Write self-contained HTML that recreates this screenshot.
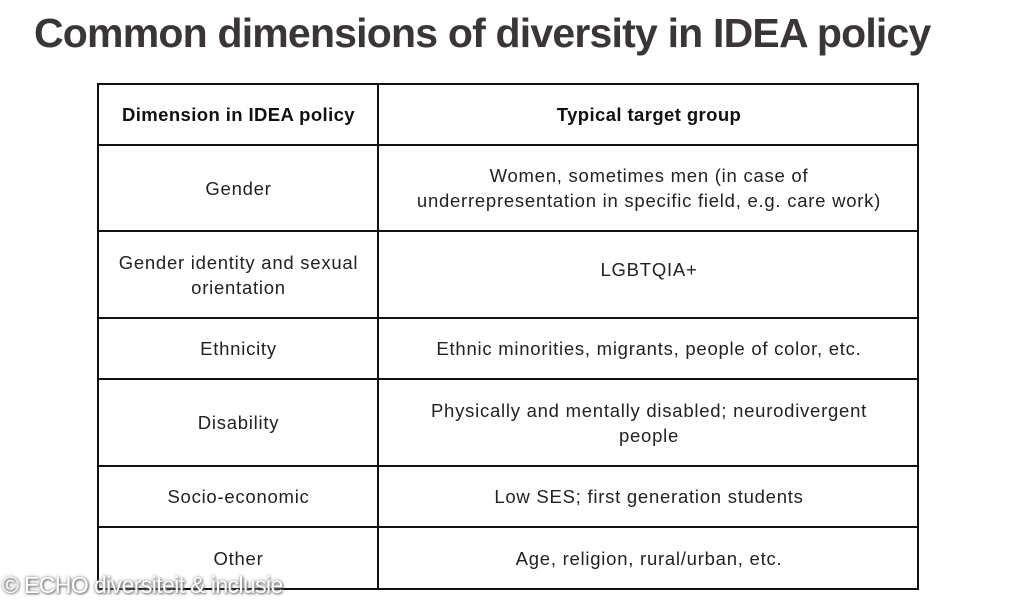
<!DOCTYPE html>
<html><head><meta charset="utf-8">
<style>
html,body{margin:0;padding:0;background:#fff;}
body{width:1030px;height:608px;position:relative;overflow:hidden;font-family:"Liberation Sans",sans-serif;}
#title{position:absolute;left:34px;top:10px;font-size:41px;font-weight:bold;color:#3a3637;letter-spacing:-0.8px;white-space:nowrap;}
.hl,.vl{position:absolute;background:#111;}
.hl{height:2px;left:97px;width:822px;}
.vl{width:2px;top:83px;height:507px;}
.cell{position:absolute;display:flex;align-items:center;justify-content:center;text-align:center;font-size:18.5px;letter-spacing:0.75px;color:#222;line-height:25px;}
.c1{left:99px;width:279px;}
.c2{left:380px;width:538px;}
.hd{font-weight:bold;color:#111;letter-spacing:0.4px;}
#wm{position:absolute;left:2px;top:572px;font-size:23px;color:#fff;text-shadow:0 0 3px #777,1px 1px 2px #666;white-space:nowrap;letter-spacing:-0.6px;}
</style></head>
<body>
<div id="title">Common dimensions of diversity in IDEA policy</div>
<div>
<div class="hl" style="top:83px"></div>
<div class="hl" style="top:144px"></div>
<div class="hl" style="top:230px"></div>
<div class="hl" style="top:317px"></div>
<div class="hl" style="top:378px"></div>
<div class="hl" style="top:465px"></div>
<div class="hl" style="top:526px"></div>
<div class="hl" style="top:588px"></div>
<div class="vl" style="left:97px"></div>
<div class="vl" style="left:377px"></div>
<div class="vl" style="left:917px"></div>

<div class="cell c1 hd" style="top:85px;height:59px">Dimension in IDEA policy</div>
<div class="cell c2 hd" style="top:85px;height:59px">Typical target group</div>

<div class="cell c1" style="top:146px;height:84px">Gender</div>
<div class="cell c2" style="top:146px;height:84px">Women, sometimes men (in case of<br>underrepresentation in specific field, e.g. care work)</div>

<div class="cell c1" style="top:232px;height:85px">Gender identity and sexual<br>orientation</div>
<div class="cell c2" style="top:232px;height:74px">LGBTQIA+</div>

<div class="cell c1" style="top:319px;height:59px">Ethnicity</div>
<div class="cell c2" style="top:319px;height:59px">Ethnic minorities, migrants, people of color, etc.</div>

<div class="cell c1" style="top:380px;height:85px">Disability</div>
<div class="cell c2" style="top:380px;height:85px">Physically and mentally disabled; neurodivergent<br>people</div>

<div class="cell c1" style="top:467px;height:59px">Socio-economic</div>
<div class="cell c2" style="top:467px;height:59px">Low SES; first generation students</div>

<div class="cell c1" style="top:528px;height:60px">Other</div>
<div class="cell c2" style="top:528px;height:60px">Age, religion, rural/urban, etc.</div>
</div>
<div id="wm">© ECHO diversiteit &amp; inclusie</div>
</body></html>
